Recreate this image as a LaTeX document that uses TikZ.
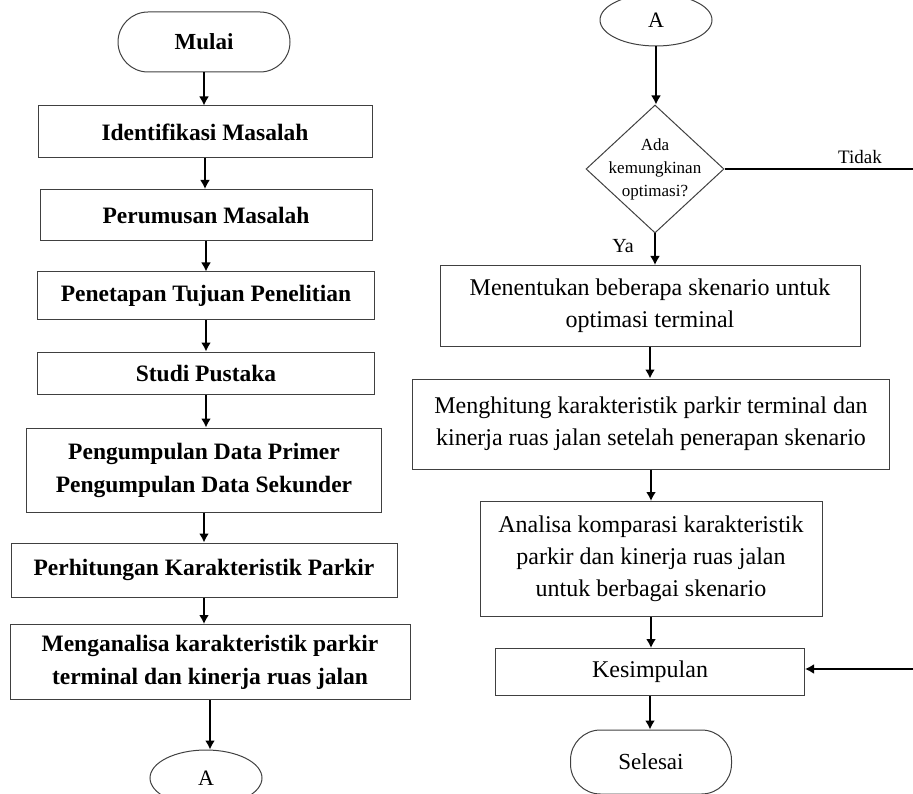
\documentclass[tikz,border=0pt]{standalone}
\usepackage{fontspec}
\setmainfont{Liberation Serif}
\usetikzlibrary{positioning,arrows.meta,shapes.geometric}

\tikzset{
  kotak/.style={draw=black!75, line width=1pt, align=center, inner sep=2pt,
    font=\fontsize{24}{32}\selectfont},
  kotakkiri/.style={kotak, font=\fontsize{23.5}{33}\selectfont\bfseries},
  terminal/.style={draw=black!75, line width=1pt, rounded corners=30pt,
    font=\fontsize{23}{27}\selectfont},
  konektor/.style={draw=black!75, line width=1pt, ellipse, inner sep=0pt,
    font=\fontsize{22}{26}\selectfont},
  panah/.style={-{Latex[length=9pt,width=10pt]}, line width=2.2pt},
}

\begin{document}
\begin{tikzpicture}[x=1pt,y=-1pt]
\clip (0,0) rectangle (913,794);

% Kolom kiri
\node[terminal, minimum width=172pt, minimum height=60pt, font=\fontsize{23}{27}\selectfont\bfseries] (mulai) at (204,42) {Mulai};
\node[kotakkiri, minimum width=334pt, minimum height=52pt] (identifikasi) at (205,132) {Identifikasi Masalah};
\node[kotakkiri, minimum width=332pt, minimum height=51pt] (perumusan) at (206,215) {Perumusan Masalah};
\node[kotakkiri, minimum width=337pt, minimum height=48pt] (penetapan) at (206,296) {Penetapan Tujuan Penelitian};
\node[kotakkiri, minimum width=337pt, minimum height=42pt] (studi) at (206,373) {Studi Pustaka};
\node[kotakkiri, minimum width=355pt, minimum height=84pt] (pengumpulan) at (204,470) {Pengumpulan Data Primer\\Pengumpulan Data Sekunder};
\node[kotakkiri, minimum width=386pt, minimum height=54pt] (perhitungan) at (204,570) {Perhitungan Karakteristik Parkir};
\node[kotakkiri, minimum width=400pt, minimum height=75pt] (menganalisa) at (210,662) {Menganalisa karakteristik parkir\\terminal dan kinerja ruas jalan};
\node[konektor, minimum width=112pt, minimum height=56pt] (akiri) at (206,778) {A};

\draw[panah] (mulai.south) -- (mulai.south |- identifikasi.north);
\draw[panah] (identifikasi.south) -- (identifikasi.south |- perumusan.north);
\draw[panah] (perumusan.south) -- (perumusan.south |- penetapan.north);
\draw[panah] (penetapan.south) -- (penetapan.south |- studi.north);
\draw[panah] (studi.south) -- (studi.south |- pengumpulan.north);
\draw[panah] (pengumpulan.south) -- (pengumpulan.south |- perhitungan.north);
\draw[panah] (perhitungan.south) -- (perhitungan.south |- menganalisa.north);
\draw[panah] (menganalisa.south) -- (menganalisa.south |- akiri.north);

% Kolom kanan
\node[konektor, minimum width=112pt, minimum height=52pt] (akanan) at (656,20) {A};
\node[draw=black!75, line width=1pt, diamond, inner sep=0pt, minimum width=138pt, minimum height=128pt,
  label={[font=\fontsize{17}{23}\selectfont, align=center]center:Ada\\kemungkinan\\optimasi?}] (keputusan) at (655,169) {};
\node[kotak, minimum width=420pt, minimum height=81pt] (menentukan) at (650,306) {Menentukan beberapa skenario untuk\\optimasi terminal};
\node[kotak, minimum width=477pt, minimum height=90pt] (menghitung) at (651,424) {Menghitung karakteristik parkir terminal dan\\kinerja ruas jalan setelah penerapan skenario};
\node[kotak, minimum width=342pt, minimum height=115pt] (analisa) at (651,559) {Analisa komparasi karakteristik\\parkir dan kinerja ruas jalan\\untuk berbagai skenario};
\node[kotak, minimum width=309pt, minimum height=47pt] (kesimpulan) at (650,672) {Kesimpulan};
\node[terminal, minimum width=161pt, minimum height=64pt] (selesai) at (651,762) {Selesai};

% Label
\node[font=\fontsize{20}{24}\selectfont] (ya) at (623,246) {Ya};
\node[font=\fontsize{19}{22}\selectfont] (tidak) at (860,157) {Tidak};
\coordinate (tidakujung) at (913,169);
\coordinate (balik) at (913,669);

\draw[panah] (akanan.south) -- (akanan.south |- keputusan.north);
\draw[line width=2.2pt] (keputusan.east) -- (tidakujung);
\draw[panah] (keputusan.south) -- (keputusan.south |- menentukan.north);
\draw[panah] (menentukan.south) -- (menentukan.south |- menghitung.north);
\draw[panah] (menghitung.south) -- (menghitung.south |- analisa.north);
\draw[panah] (analisa.south) -- (analisa.south |- kesimpulan.north);
\draw[panah] (balik) -- (balik -| kesimpulan.east);
\draw[panah] (kesimpulan.south) -- (kesimpulan.south |- selesai.north);
\end{tikzpicture}
\end{document}
